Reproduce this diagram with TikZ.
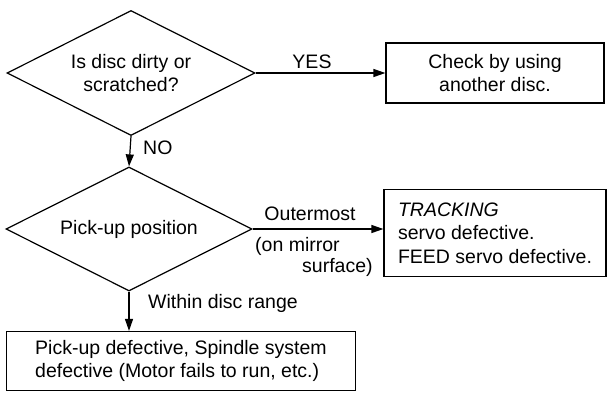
\documentclass[tikz,border=0pt]{standalone}
\usepackage{fontspec}
\setmainfont{Liberation Sans}
\usetikzlibrary{shapes.geometric,arrows.meta}
\begin{document}
\begin{tikzpicture}[x=1pt, y=-1pt, font=\fontsize{19.5}{23.5}\selectfont]
      \tikzstyle{box}=[draw, line width=1.2pt, inner sep=0pt]
      \tikzstyle{decision}=[draw, diamond, line width=1.2pt, inner sep=0pt,
                            aspect=2, align=center]
      \tikzstyle{arrow}=[line width=1.2pt, -{Triangle[length=12pt, width=8pt]}]
      \tikzstyle{note}=[inner sep=0pt]
      \useasboundingbox (0, 0) rectangle (608, 394);
      \node[decision, minimum width=248pt, minimum height=125pt] (dirty) at (131, 73)
           {Is disc dirty or\\scratched?};
      \node[box, minimum width=218pt, minimum height=60pt, align=center] (other) at (495, 73)
           {Check by using\\another disc.};
      \node[decision, minimum width=246pt, minimum height=124pt] (pickup) at (129, 229)
           {Pick-up position};
      \node[box, minimum width=222pt, minimum height=87pt, align=left] (servo) at (495, 233)
           {\textit{TRACKING}\\servo defective.\\FEED servo defective.};
      \node[box, minimum width=349pt, minimum height=59pt, align=left] (spindle) at (181, 361)
           {Pick-up defective, Spindle system\\defective (Motor fails to run, etc.)};
      \draw[arrow] (dirty.east) -- (other.west);
      \draw[arrow] (dirty.south) -- (pickup.north);
      \draw[arrow] (pickup.east) -- (pickup.east -| servo.west);
      \draw[arrow] (pickup.south) -- (pickup.south |- spindle.north);
      \node[note] (yes) at (312, 62) {YES};
      \node[note, anchor=west] (no) at (143, 148) {NO};
      \node[note] (outer) at (310, 214) {Outermost};
      \node[note, anchor=north west, align=left,
            font=\fontsize{19.5}{21}\selectfont] (mirror) at (255, 237)
           {(on mirror\\\hspace*{47pt}surface)};
      \node[note, anchor=west] (within) at (148, 303) {Within disc range};
    \end{tikzpicture}
\end{document}
